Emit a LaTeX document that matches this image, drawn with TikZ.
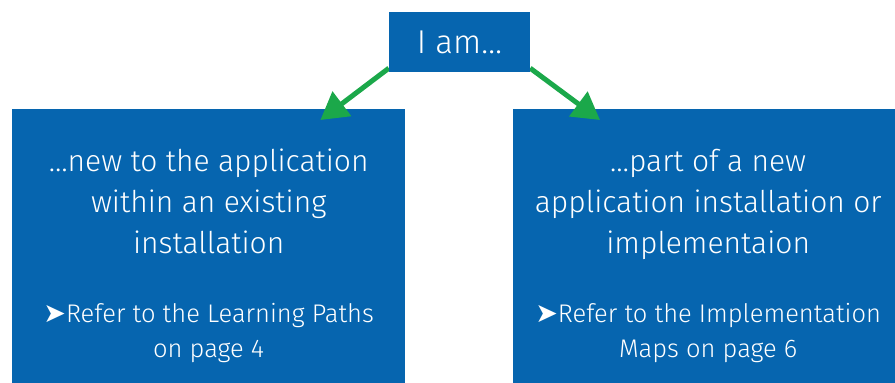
\documentclass[tikz,border=0pt]{standalone}
\usepackage{fontspec}
\setmainfont{Fira Sans Light}
\newfontfamily\symfont{DejaVu Sans}
\usetikzlibrary{arrows.meta,calc,positioning}
\definecolor{boxblue}{RGB}{6,101,175}
\definecolor{arrgreen}{RGB}{27,168,74}
\pgfdeclarelayer{bg}
\pgfsetlayers{bg,main}

\begin{document}
\begin{tikzpicture}[x=1pt, y=-1pt, every node/.style={inner sep=0pt},
    box/.style={fill=boxblue, minimum width=393pt, minimum height=274pt},
    choice/.style={text=white, align=center, font=\fontsize{30}{41}\selectfont},
    refer/.style={text=white, align=center, font=\fontsize{25.5}{35}\selectfont},
    pick/.style={line width=5pt, draw=arrgreen, -{Triangle[length=27pt,width=30pt]}} ]

    \useasboundingbox (0,0) rectangle (895,383);

    \node[fill=boxblue, text=white, minimum width=141pt, minimum height=60pt,
        font=\fontsize{33}{38}\selectfont] (iam) at (459.5,42) {I am…};

    % The two choices.
    \begin{pgfonlayer}{bg}
    \node[box, anchor=north west] (newapp) at (12,109) {};
    \node[box, minimum width=382pt, anchor=north west] (partnew) at (513,109) {};

    \coordinate (newtip) at ($(newapp.north east)+(-85,11)$);
    \coordinate (parttip) at ($(partnew.north west)+(87,11)$);

    \draw[pick] ([yshift=4pt]iam.south west) -- (newtip);
    \draw[pick] ([yshift=4pt]iam.south east) -- (parttip);
    \end{pgfonlayer}

    \node[choice, below=40pt of newapp.north] (newtxt)
        {…new to the application\\within an existing\\installation};
    \node[refer, below=194pt of newapp.north] (newref)
        {{\symfont\fontsize{27}{35}\selectfont ➤}Refer to the Learning Paths\\on page 4};

    \node[choice, below=40pt of partnew.north, xshift=4pt] (parttxt)
        {…part of a new\\application installation or\\implementaion};
    \node[refer, below=194pt of partnew.north, xshift=4pt] (partref)
        {{\symfont\fontsize{27}{35}\selectfont ➤}Refer to the Implementation\\Maps on page 6};

\end{tikzpicture}
\end{document}
